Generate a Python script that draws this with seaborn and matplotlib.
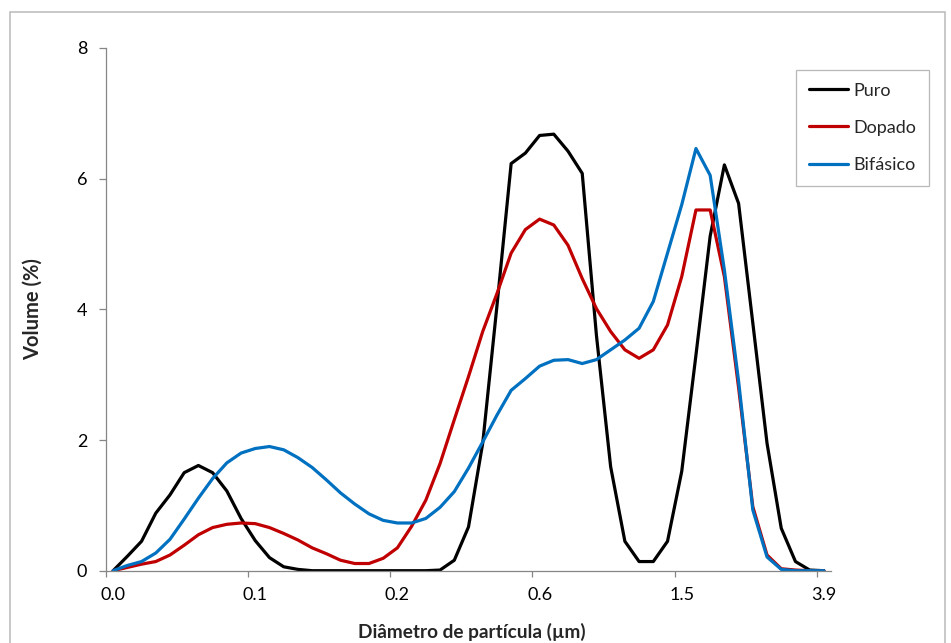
import matplotlib
matplotlib.use("Agg")
import matplotlib.pyplot as plt
from matplotlib.patches import Rectangle
from matplotlib.ticker import FixedLocator, NullFormatter
import pandas as pd
import seaborn as sns

# Particle size distribution (volume %) per size class
puro = [0, 0.22, 0.45, 0.88, 1.16, 1.50, 1.61, 1.50, 1.22, 0.80,
        0.46, 0.20, 0.06, 0.02, 0, 0, 0, 0, 0, 0,
        0, 0, 0, 0.01, 0.16, 0.67, 1.95, 4.05, 6.23, 6.39,
        6.66, 6.68, 6.42, 6.08, 3.60, 1.59, 0.45, 0.14, 0.14, 0.45,
        1.52, 3.30, 5.12, 6.21, 5.62, 3.79, 1.95, 0.65, 0.14, 0.01,
        0]
dopado = [0, 0.05, 0.10, 0.14, 0.24, 0.39, 0.55, 0.66, 0.71, 0.73,
          0.72, 0.66, 0.57, 0.47, 0.35, 0.26, 0.16, 0.11, 0.11, 0.19,
          0.35, 0.68, 1.08, 1.64, 2.31, 2.97, 3.66, 4.24, 4.86, 5.22,
          5.38, 5.29, 4.98, 4.47, 4.01, 3.66, 3.38, 3.25, 3.38, 3.76,
          4.50, 5.52, 5.52, 4.50, 2.80, 0.98, 0.24, 0.03, 0.01, 0,
          0]
bifasico = [0, 0.08, 0.14, 0.27, 0.48, 0.79, 1.11, 1.41, 1.65, 1.80,
            1.87, 1.90, 1.85, 1.73, 1.58, 1.39, 1.19, 1.02, 0.87, 0.77,
            0.73, 0.73, 0.80, 0.97, 1.21, 1.57, 1.97, 2.38, 2.76, 2.94,
            3.13, 3.22, 3.23, 3.17, 3.23, 3.38, 3.53, 3.71, 4.12, 4.86,
            5.60, 6.46, 6.05, 4.60, 2.90, 0.93, 0.21, 0.02, 0, 0,
            0]
diameter_labels = ["0.0", "0.1", "0.2", "0.6", "1.5", "3.9"]
series_names = ["Puro", "Dopado", "Bifásico"]
series_colors = ["#000000", "#c00000", "#0070c0"]
y_ticks = [0, 2, 4, 6, 8]

n = len(puro)
label_step = (n - 1) // (len(diameter_labels) - 1)

df = pd.DataFrame({
    "classe": list(range(n)) * 3,
    "volume": puro + dopado + bifasico,
    "amostra": [s for s in series_names for _ in range(n)],
})

sns.set_theme(style="white")
plt.rcParams["font.family"] = ["Lato", "DejaVu Sans"]

W, H = 951, 643
fig = plt.figure(figsize=(W / 100, H / 100), dpi=100)
ax = fig.add_axes([106 / W, 1 - 570.7 / H, 725 / W, 522.8 / H])

sns.lineplot(data=df, x="classe", y="volume", hue="amostra",
             hue_order=series_names, palette=series_colors,
             linewidth=2.3, estimator=None, legend=False, ax=ax)

axis_gray = "#868686"
ax.set_xlim(-0.5, n - 0.5)
ax.set_ylim(0, 8)
for side in ("top", "right"):
    ax.spines[side].set_visible(False)
for side in ("left", "bottom"):
    ax.spines[side].set_color(axis_gray)
    ax.spines[side].set_linewidth(0.9)

# category labels centred on points, tick marks on class boundaries
label_pos = list(range(0, n, label_step))
ax.xaxis.set_major_locator(FixedLocator(label_pos))
ax.set_xticklabels(diameter_labels)
ax.xaxis.set_minor_locator(FixedLocator([p - 0.5 for p in label_pos]))
ax.xaxis.set_minor_formatter(NullFormatter())
ax.tick_params(axis="x", which="major", length=0, pad=12, labelsize=13, labelcolor="black")
ax.tick_params(axis="x", which="minor", bottom=True, length=4.5, width=0.9,
               color=axis_gray, direction="out")

ax.set_yticks(y_ticks)
ax.set_yticklabels([str(v) for v in y_ticks])
ax.tick_params(axis="y", which="major", left=True, length=5, width=0.9,
               color=axis_gray, direction="out", pad=8.5, labelsize=13, labelcolor="black")
ax.grid(False)

ax.set_xlabel("Diâmetro de partícula (µm)", fontsize=13.7, fontweight="bold", va="center")
ax.xaxis.set_label_coords(0.505, -0.117)
ax.set_ylabel("Volume (%)", fontsize=14.5, fontweight="bold", va="center")
ax.yaxis.set_label_coords(-0.1007, 0.5)

leg = ax.legend(ax.lines[:3], series_names, loc="upper left",
                bbox_to_anchor=(0.9517, 0.9577), borderaxespad=0,
                fontsize=13, frameon=True, fancybox=False, shadow=False,
                labelspacing=1.17, handlelength=2.2, handletextpad=0.3,
                borderpad=0.7)
leg.get_frame().set_edgecolor("#a6a6a6")
leg.get_frame().set_linewidth(0.9)

fig.add_artist(Rectangle((10 / W, -0.05), 935 / W, 631 / H + 0.05,
                         transform=fig.transFigure, fill=False,
                         edgecolor="#bfbfbf", linewidth=1.2))

fig.savefig("out.png", dpi=100)
